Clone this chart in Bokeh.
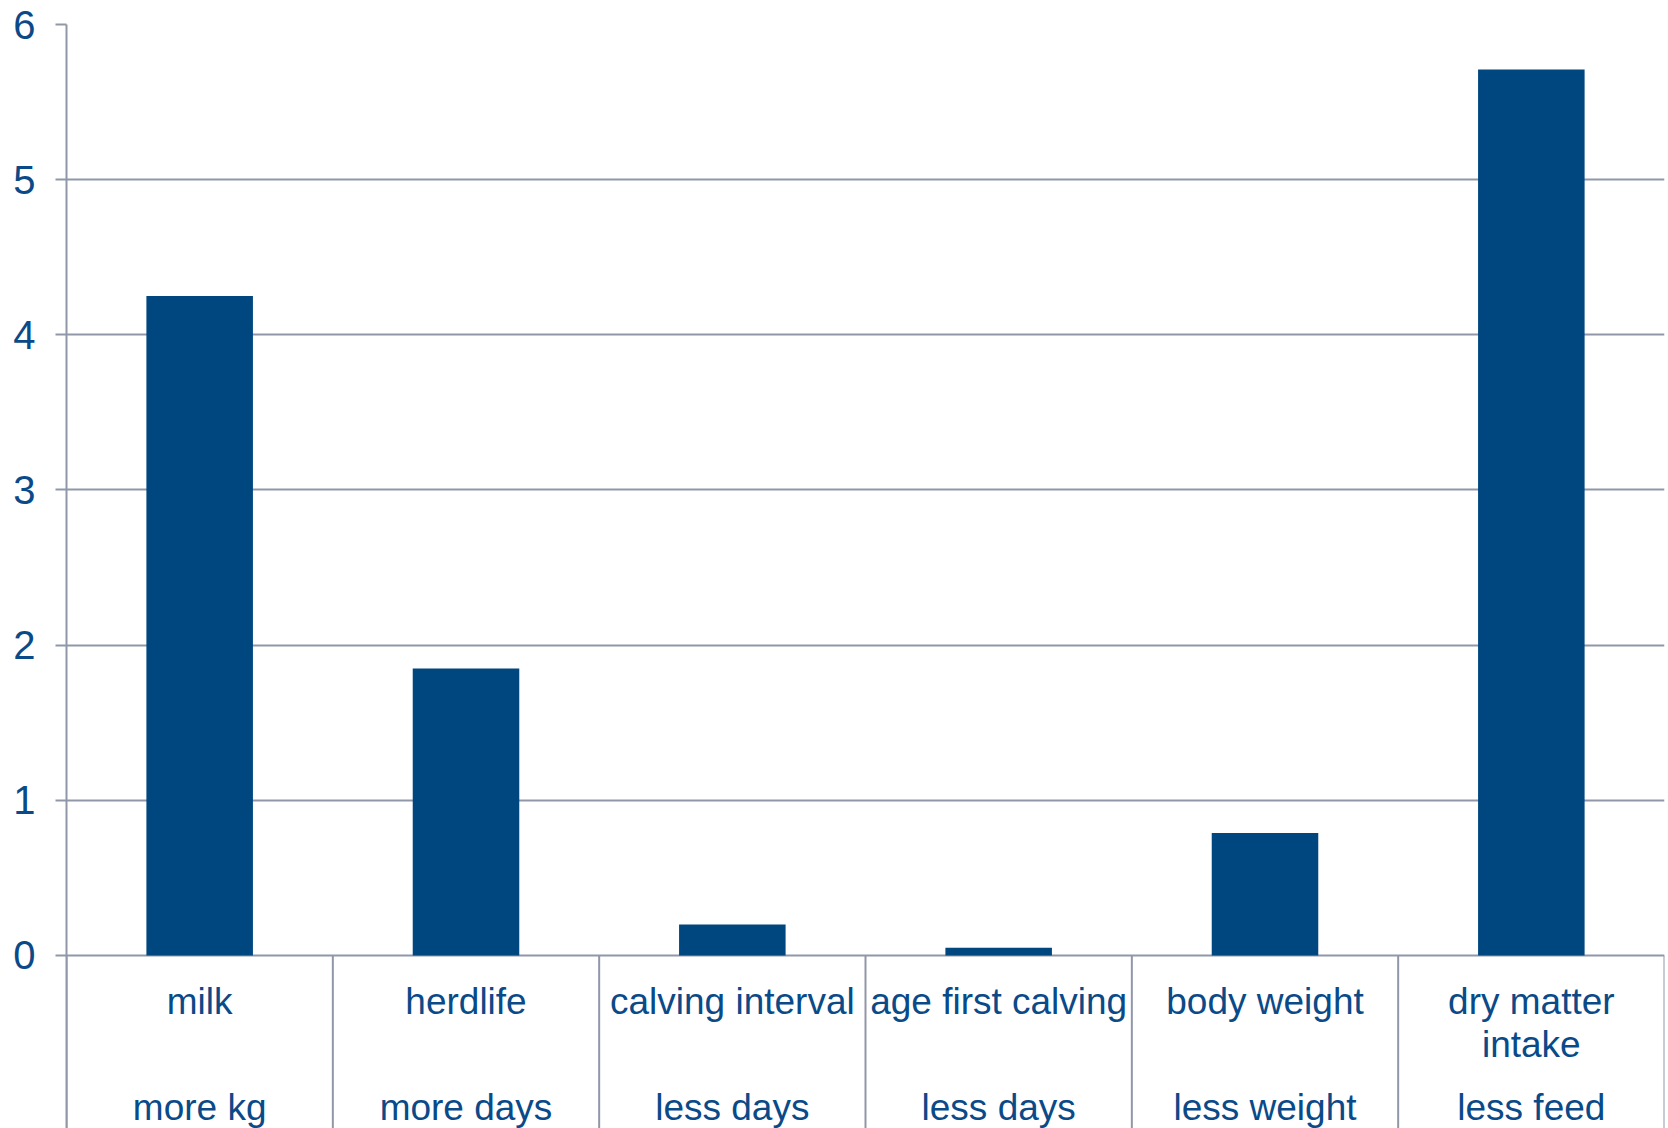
from bokeh.plotting import figure
from bokeh.models import Range1d, FixedTicker
from bokeh.core.properties import value
from bokeh.embed import file_html
from bokeh.resources import INLINE

categories = ["milk", "herdlife", "calving interval", "age first calving", "body weight", "dry matter\nintake"]
directions = ["more kg", "more days", "less days", "less days", "less weight", "less feed"]
values = [4.25, 1.85, 0.20, 0.05, 0.79, 5.71]
y_ticks = [0, 1, 2, 3, 4, 5, 6]

BLUE = "#00467f"
TEXT = "#0a4a88"
GRID = "#9097a9"
FONT = "Liberation Sans"

n = len(categories)
y_min = -1.115
p = figure(width=1668, height=1128, output_backend="svg", toolbar_location=None,
           x_range=Range1d(0, n), y_range=Range1d(y_min, max(y_ticks)),
           min_border_left=66, min_border_right=4, min_border_top=24, min_border_bottom=0)
p.outline_line_color = None
p.xaxis.visible = False
p.xgrid.visible = False

ax = p.yaxis[0]
ax.ticker = FixedTicker(ticks=y_ticks)
ax.axis_line_color = GRID
ax.axis_line_width = 2
ax.major_tick_line_color = GRID
ax.major_tick_line_width = 2
ax.major_tick_out = 11
ax.major_tick_in = 0
ax.minor_tick_line_color = None
ax.major_label_text_font = FONT
ax.major_label_text_font_size = "40px"
ax.major_label_text_color = TEXT
ax.major_label_standoff = 20

p.ygrid.ticker = FixedTicker(ticks=y_ticks)
p.ygrid.grid_line_color = GRID
p.ygrid.grid_line_width = 2

xs = [i + 0.5 for i in range(n)]
p.vbar(x=xs, top=values, bottom=0, width=0.4, fill_color=BLUE, line_color=None)

bx = list(range(n + 1))
p.segment(x0=bx, y0=[0] * (n + 1), x1=bx, y1=[y_min] * (n + 1), line_color=GRID, line_width=2)

lx, lt, lo = [], [], []
for i, c in enumerate(categories):
    for j, line in enumerate(c.split("\n")):
        lx.append(xs[i]); lt.append(line); lo.append(46 + 43 * j)
for k in range(len(lx)):
    p.text(x=[lx[k]], y=[0], text=[lt[k]], text_align="center", text_baseline="alphabetic",
           y_offset=lo[k], text_font=value(FONT), text_font_size="37px", text_color=TEXT)

p.text(x=xs, y=[0] * n, text=directions, text_align="center", text_baseline="alphabetic",
       y_offset=152, text_font=value(FONT), text_font_size="37px", text_color=TEXT)

open("out.html", "w").write(file_html(p, INLINE))
